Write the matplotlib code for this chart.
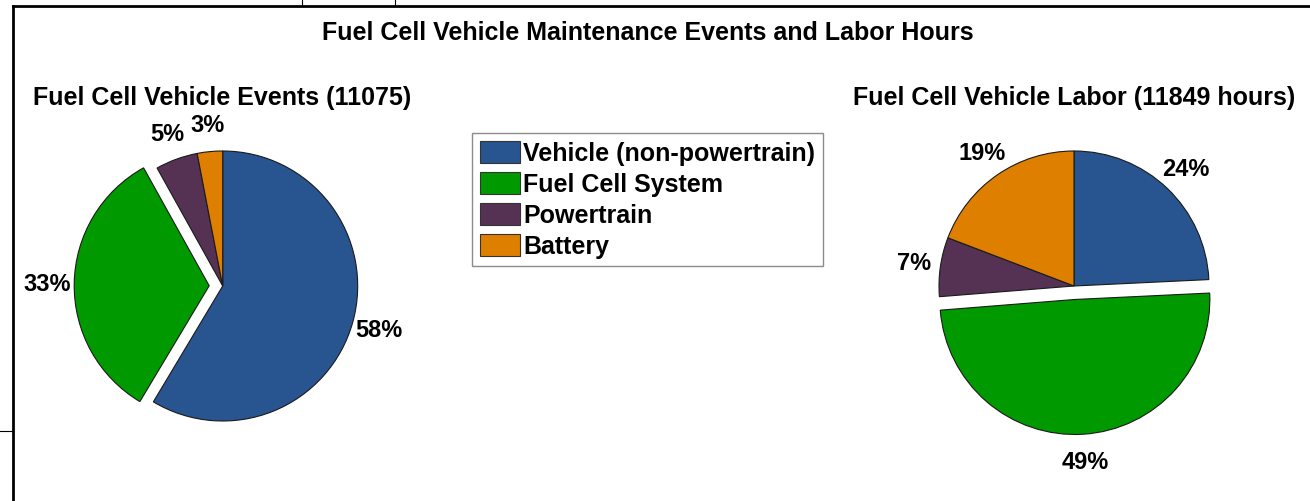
import matplotlib
matplotlib.use("Agg")
import matplotlib.pyplot as plt
import numpy as np
from matplotlib.lines import Line2D
from matplotlib.patches import Patch

plt.rcParams['font.family'] = ['Liberation Sans', 'DejaVu Sans']

categories = ["Vehicle (non-powertrain)", "Fuel Cell System", "Powertrain", "Battery"]
events_pct = [58, 33, 5, 3]
labor_pct = [24, 49, 7, 19]
events_title = "Fuel Cell Vehicle Events (11075)"
labor_title = "Fuel Cell Vehicle Labor (11849 hours)"
main_title = "Fuel Cell Vehicle Maintenance Events and Labor Hours"
colors = ["#28548F", "#009A00", "#553254", "#DF7F00"]

W, H = 1310, 502
fig = plt.figure(figsize=(W / 100, H / 100), dpi=100)

R = 135.0  # pixel radius of pie
LIM = 1.6


def add_pie_axes(cx, cy):
    size = 2 * LIM * R
    ax = fig.add_axes([(cx - size / 2) / W, (H - cy - size / 2) / H, size / W, size / H])
    return ax


def draw_pie(ax, values, explode_idx, label_r):
    explode = [0.1 if i == explode_idx else 0 for i in range(len(values))]
    wedges, _ = ax.pie(values, colors=colors, startangle=90, counterclock=False,
                       explode=explode, radius=1.0,
                       wedgeprops=dict(edgecolor='#1a1a1a', linewidth=0.8))
    ax.set_xlim(-LIM, LIM)
    ax.set_ylim(-LIM, LIM)
    ax.set_aspect('equal')
    ax.axis('off')
    for i, (w, v) in enumerate(zip(wedges, values)):
        mid = np.deg2rad((w.theta1 + w.theta2) / 2)
        r = label_r[i] + explode[i]
        ax.text(r * np.cos(mid), r * np.sin(mid), f"{v}%", ha='center', va='center',
                fontsize=17, fontweight='bold', color='black')


ax1 = add_pie_axes(222.7, 287)
draw_pie(ax1, events_pct, 1, [1.2, 1.2, 1.2, 1.2])

ax2 = add_pie_axes(1074, 287)
draw_pie(ax2, labor_pct, 1, [1.2, 1.2, 1.2, 1.2])

fig.text(648 / W, 1 - 33 / H, main_title, ha='center', va='center',
         fontsize=18, fontweight='bold')
fig.text(222 / W, 1 - 98 / H, events_title, ha='center', va='center',
         fontsize=18, fontweight='bold')
fig.text(1074 / W, 1 - 98 / H, labor_title, ha='center', va='center',
         fontsize=18, fontweight='bold')

handles = [Patch(facecolor=c, edgecolor='#333333', linewidth=0.8) for c in colors]
leg = fig.legend(handles, categories, loc='upper left',
                 bbox_to_anchor=(472 / W, 1 - 134 / H),
                 prop=dict(size=18, weight='bold'), frameon=True, fancybox=False,
                 handlelength=1.6, handleheight=1.0, handletextpad=0.15,
                 labelspacing=0.25, borderpad=0.3, borderaxespad=0.0)
leg.get_frame().set_edgecolor('#707070')
leg.get_frame().set_linewidth(1.0)

# worksheet frame lines
def fline(xs, ys, lw):
    fig.add_artist(Line2D([x / W for x in xs], [1 - y / H for y in ys],
                          color='black', linewidth=lw, transform=fig.transFigure))

fline([13, W], [6.5, 6.5], 2.0)
fline([13, 13], [6.5, H], 2.0)
fline([302, 302], [0, 6], 0.8)
fline([395, 395], [0, 6], 0.8)
fline([0, 13], [432, 432], 0.8)

fig.savefig("out.png", dpi=100)
